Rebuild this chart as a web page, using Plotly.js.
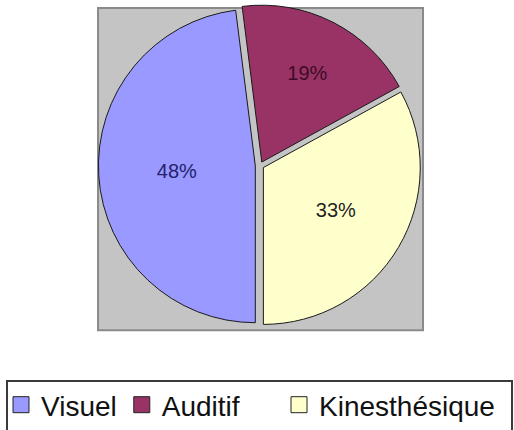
<!DOCTYPE html>
<html>
<head>
<meta charset="utf-8">
<script src="https://cdn.plot.ly/plotly-3.0.1.min.js"></script>
<style>html,body{margin:0;padding:0;background:#fff;}#chart{width:514px;height:430px;}</style>
</head>
<body>
<div id="chart"></div>
<script>
var categories = ['Visuel', 'Auditif', 'Kinesthésique'];
var values = [48, 19, 33];
var sliceColors = ['#9999FF', '#993366', '#FFFFCC'];
var labelColors = ['#22226e', '#3d0b25', '#222222'];
var legendGroups = ['legend', 'legend', 'legend2'];

var pieTrace = {
  type: 'pie',
  labels: categories,
  values: values,
  sort: false,
  direction: 'clockwise',
  rotation: 180,
  pull: [0.03, 0.025, 0.025],
  marker: {colors: sliceColors, line: {color: '#1a1a1a', width: 1}},
  textinfo: 'percent',
  textposition: 'inside',
  insidetextorientation: 'horizontal',
  textfont: {family: 'Arial, Liberation Sans, sans-serif', size: 20, color: labelColors},
  hoverinfo: 'none',
  showlegend: false,
  domain: {x: [0.1915, 0.8202], y: [0.2366, 0.9916]}
};

// legend entries built from the same category arrays
var legendTraces = categories.map(function (c, i) {
  return {
    type: 'scatter', mode: 'markers', name: c,
    x: [0], y: [0],
    legend: legendGroups[i],
    marker: {symbol: 'square', size: 16, color: sliceColors[i], line: {color: '#222222', width: 1}},
    hoverinfo: 'none', showlegend: true
  };
});

var legendFont = {family: 'Arial, Liberation Sans, sans-serif', size: 28, color: '#111111'};

var layout = {
  width: 514, height: 430,
  margin: {l: 0, r: 0, t: 0, b: 0},
  paper_bgcolor: '#ffffff',
  plot_bgcolor: 'rgba(0,0,0,0)',
  showlegend: true,
  xaxis: {visible: false, range: [10, 11], fixedrange: true},
  yaxis: {visible: false, range: [10, 11], fixedrange: true},
  legend: {
    orientation: 'h',
    x: 1 / 514, xanchor: 'left',
    y: 0.114, yanchor: 'top',
    bgcolor: 'rgba(0,0,0,0)', borderwidth: 0,
    font: legendFont, traceorder: 'normal'
  },
  legend2: {
    orientation: 'h',
    x: 279 / 514, xanchor: 'left',
    y: 0.114, yanchor: 'top',
    bgcolor: 'rgba(0,0,0,0)', borderwidth: 0,
    font: legendFont, traceorder: 'normal'
  },
  shapes: [
    {type: 'rect', xref: 'paper', yref: 'paper', layer: 'below',
     x0: 0.1907, x1: 0.8230, y0: 0.2302, y1: 0.9814,
     fillcolor: '#c4c4c4', line: {color: '#8a8a8a', width: 2}},
    {type: 'rect', xref: 'paper', yref: 'paper', layer: 'below',
     x0: 0.0136, x1: 0.9961, y0: -0.02, y1: 0.1116,
     fillcolor: 'rgba(0,0,0,0)', line: {color: '#3a3a3a', width: 2}}
  ]
};

Plotly.newPlot('chart', [pieTrace].concat(legendTraces), layout, {displayModeBar: false, staticPlot: true});
</script>
</body>
</html>
